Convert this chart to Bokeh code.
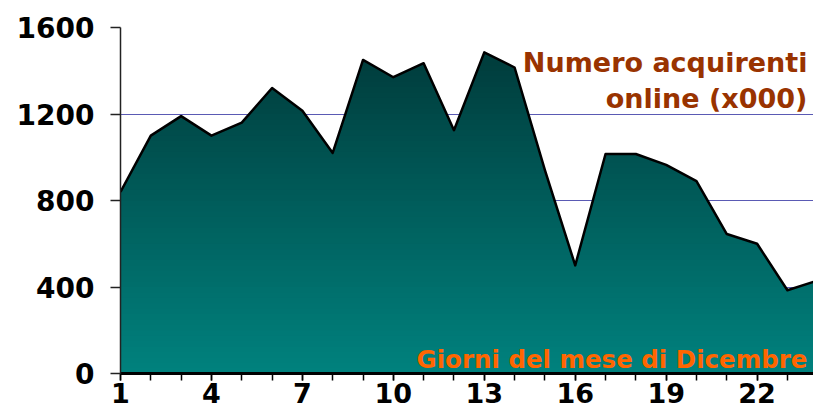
from bokeh.plotting import figure
from bokeh.models import FixedTicker, Label, Range1d
from bokeh.embed import file_html
from bokeh.resources import INLINE

# ---- data ----
days = list(range(1, 25))
buyers = [840, 1100, 1190, 1100, 1160, 1320, 1215, 1020, 1450, 1370, 1435, 1125,
          1485, 1415, 940, 500, 1015, 1015, 965, 890, 645, 600, 385, 430]
x_ticks = [1, 4, 7, 10, 13, 16, 19, 22]
y_ticks = [0, 400, 800, 1200, 1600]
title_lines = ["Numero acquirenti", "online (x000)"]
x_title = "Giorni del mese di Dicembre"

FONT = "DejaVu Sans"

p = figure(width=813, height=416, output_backend="svg", toolbar_location=None,
           x_range=Range1d(1, 23.86), y_range=Range1d(0, 1600),
           min_border_left=120, min_border_right=0, min_border_top=27,
           min_border_bottom=43)
p.outline_line_color = None
p.background_fill_color = "white"
p.border_fill_color = "white"


def clipped(xs, ys, h):
    ox, oy = [], []
    for i in range(len(xs)):
        ox.append(xs[i]); oy.append(min(ys[i], h))
        if i < len(xs) - 1:
            y0, y1 = ys[i], ys[i + 1]
            if (y0 - h) * (y1 - h) < 0:
                t = (h - y0) / (y1 - y0)
                ox.append(xs[i] + t * (xs[i + 1] - xs[i])); oy.append(h)
    return ox, oy


top_rgb = (0, 54, 54)
bot_rgb = (0, 130, 126)
N = 64
ymax = 1600.0
for k in range(N, 0, -1):
    h = ymax * k / N
    frac = (h - ymax / (2 * N)) / ymax
    c = tuple(int(round(bot_rgb[j] + (top_rgb[j] - bot_rgb[j]) * frac)) for j in range(3))
    col = "#%02x%02x%02x" % c
    xs, ys = clipped(days, buyers, h)
    p.varea(x=xs, y1=[0] * len(xs), y2=ys, fill_color=col)

p.line(days, buyers, line_color="black", line_width=2.5, line_join="round")

# grid
p.xgrid.grid_line_color = None
p.ygrid.grid_line_color = "#5a5ab4"
p.ygrid.grid_line_width = 1
p.ygrid.ticker = FixedTicker(ticks=y_ticks)

# axes
p.xaxis.ticker = FixedTicker(ticks=x_ticks, minor_ticks=days)
p.xaxis.axis_line_color = "black"
p.xaxis.axis_line_width = 3
p.xaxis.major_tick_out = 7
p.xaxis.major_tick_in = 0
p.xaxis.minor_tick_out = 7
p.xaxis.minor_tick_in = 0
p.xaxis.major_tick_line_color = "black"
p.xaxis.minor_tick_line_color = "black"
p.xaxis.major_tick_line_width = 1.5
p.xaxis.minor_tick_line_width = 1.5
p.xaxis.major_label_standoff = 2
p.xaxis.major_label_text_font = FONT
p.xaxis.major_label_text_font_size = "27px"
p.xaxis.major_label_text_font_style = "bold"
p.xaxis.major_label_text_color = "black"

p.yaxis.ticker = FixedTicker(ticks=y_ticks)
p.yaxis.axis_line_color = "#222222"
p.yaxis.axis_line_width = 1.5
p.yaxis.major_tick_out = 10
p.yaxis.major_tick_in = 0
p.yaxis.minor_tick_line_color = None
p.yaxis.major_tick_line_color = "#222222"
p.yaxis.major_tick_line_width = 1.5
p.yaxis.major_label_standoff = 16
p.yaxis.major_label_text_font = FONT
p.yaxis.major_label_text_font_size = "28px"
p.yaxis.major_label_text_font_style = "bold"
p.yaxis.major_label_text_color = "black"

# texts
p.add_layout(Label(x=23.66, y=1438, text=title_lines[0], text_align="right",
                   text_baseline="alphabetic", text_font=FONT, text_font_size="27px",
                   text_font_style="bold", text_color="#993300"))
p.add_layout(Label(x=23.66, y=1272, text=title_lines[1], text_align="right",
                   text_baseline="alphabetic", text_font=FONT, text_font_size="27px",
                   text_font_style="bold", text_color="#993300"))
p.add_layout(Label(x=23.66, y=65, text=x_title, text_align="right",
                   text_baseline="alphabetic", text_font=FONT, text_font_size="24.5px",
                   text_font_style="bold", text_color="#ff6600"))

open("out.html", "w").write(file_html(p, INLINE))
